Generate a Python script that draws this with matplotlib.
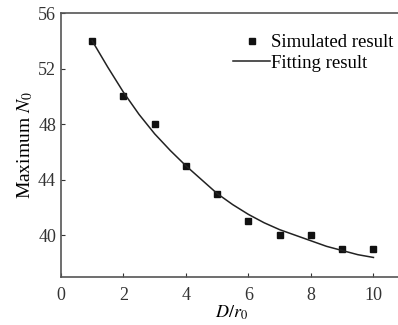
import numpy as np
import matplotlib.pyplot as plt

plt.rcParams['font.family'] = ['Liberation Serif', 'DejaVu Serif']
plt.rcParams['mathtext.fontset'] = 'stix'

# simulated points
d_ratio = [1, 2, 3, 4, 5, 6, 7, 8, 9, 10]
max_n0 = [54, 50, 48, 45, 43, 41, 40, 40, 39, 39]

# fitting curve
fit_x = [1, 1.5, 2, 2.5, 3, 3.5, 4, 4.5, 5, 5.5, 6, 6.5, 7, 7.5, 8, 8.5, 9, 9.5, 10]
fit_y = [54.0, 52.1, 50.3, 48.7, 47.3, 46.1, 45.0, 44.0, 43.0, 42.2, 41.5,
         40.9, 40.4, 40.0, 39.6, 39.2, 38.9, 38.6, 38.4]

x_ticks = [0, 2, 4, 6, 8, 10]
y_ticks = [40, 44, 48, 52, 56]

fig = plt.figure(figsize=(3.98, 3.25), dpi=100)
ax = fig.add_axes([0.153, 0.148, 0.856, 0.812])

ax.plot(d_ratio, max_n0, 's', color='#111111', markersize=4, label='Simulated result')
ax.plot(fit_x, fit_y, '-', color='#222222', linewidth=1.1, label='Fitting result')

ax.set_xlim(0, 10.9)
ax.set_ylim(37, 56)
ax.set_xticks(x_ticks)
ax.set_yticks(y_ticks)
ax.tick_params(direction='in', length=3, labelsize=13, colors='#333333')
ax.tick_params(axis='x', pad=7)
for s in ax.spines.values():
    s.set_color('#555555')
    s.set_linewidth(1.2)
ax.spines['right'].set_visible(False)

ax.set_xlabel('$D/r_0$', fontsize=13, labelpad=0)
ax.set_ylabel('Maximum $N_0$', fontsize=14, labelpad=2)

ax.legend(loc='upper right', frameon=False, fontsize=13.5, handlelength=2.0,
          handletextpad=0.05, borderaxespad=0.3, labelspacing=0.2,
          bbox_to_anchor=(1.015, 0.97))

fig.savefig('out.png', dpi=100)
